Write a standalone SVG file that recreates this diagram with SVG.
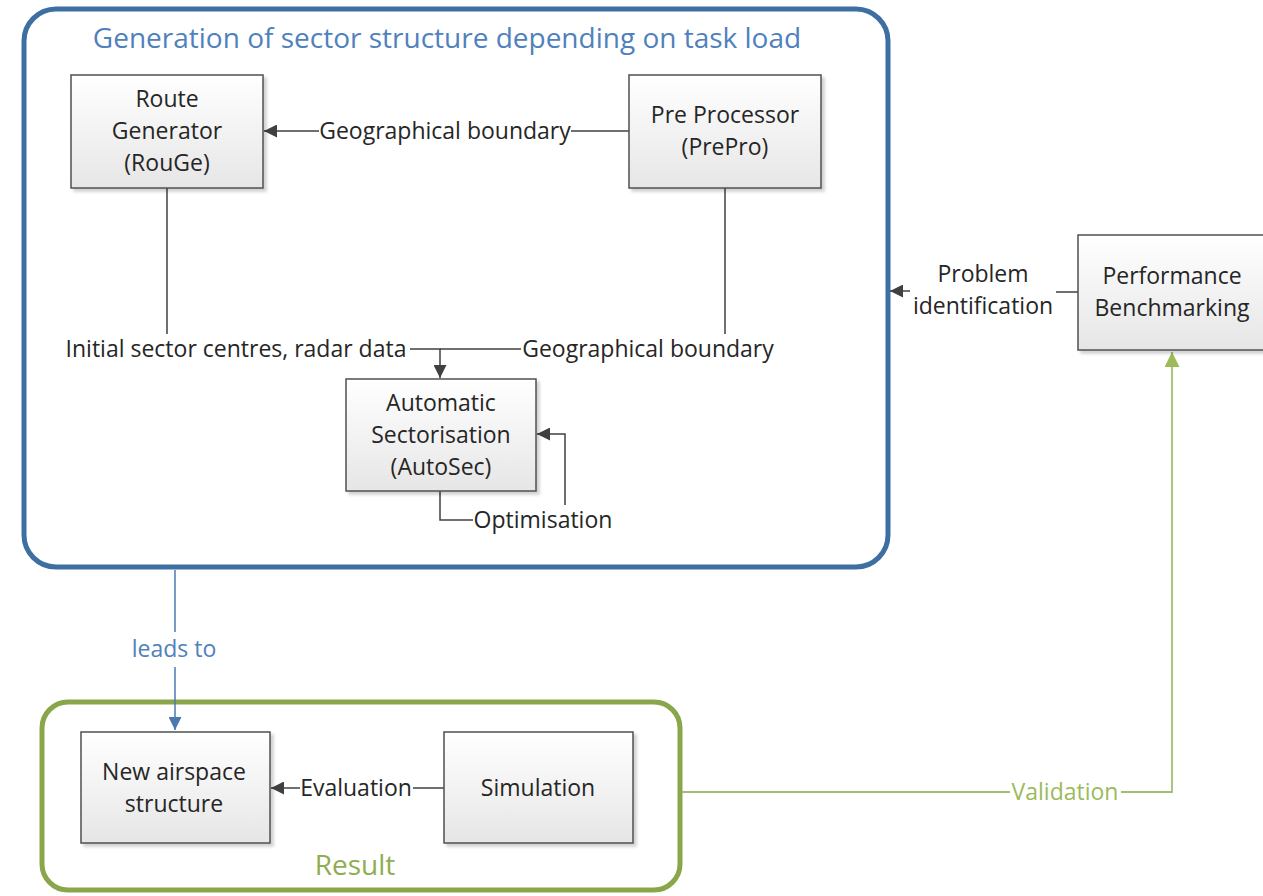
<svg xmlns="http://www.w3.org/2000/svg" width="1263" height="896" viewBox="0 0 1263 896">
<defs>
<linearGradient id="boxfill" x1="0" y1="0" x2="0" y2="1">
<stop offset="0" stop-color="#ffffff"/>
<stop offset="1" stop-color="#e6e6e6"/>
</linearGradient>
<filter id="shadow" x="-10%" y="-10%" width="125%" height="125%">
<feDropShadow dx="3" dy="3" stdDeviation="1.5" flood-color="#000" flood-opacity="0.18"/>
</filter>
<marker id="arrDark" markerWidth="13" markerHeight="13" refX="10" refY="5" orient="auto" markerUnits="userSpaceOnUse" viewBox="0 0 10 10">
<path d="M0,0 L10,5 L0,10 Z" fill="#404040"/>
</marker>
<marker id="arrBlue" markerWidth="13" markerHeight="13" refX="10" refY="5" orient="auto" markerUnits="userSpaceOnUse" viewBox="0 0 10 10">
<path d="M0,0 L10,5 L0,10 Z" fill="#4a7ab0"/>
</marker>
<marker id="arrGreen" markerWidth="15" markerHeight="15" refX="10" refY="5" orient="auto" markerUnits="userSpaceOnUse" viewBox="0 0 10 10">
<path d="M0,0 L10,5 L0,10 Z" fill="#9bbb59"/>
</marker>
</defs>
<style>
text { font-family: "Open Sans", Lato, "Liberation Sans", sans-serif; }
.node rect { fill: url(#boxfill); stroke: #505050; stroke-width: 1.5; }
.lbl { font-size: 23px; fill: #262626; text-anchor: middle; }
.clbl { font-size: 23px; fill: #262626; text-anchor: middle; }
.dark { stroke: #404040; stroke-width: 1.5; fill: none; }
</style>
<rect width="1263" height="896" fill="#ffffff"/>

<g id="container-generation">
<rect x="24" y="9" width="864" height="558" rx="32" ry="32" fill="none" stroke="#3e6fa3" stroke-width="5"/>
<text x="447" y="48" font-size="28" fill="#4f81bd" text-anchor="middle">Generation of sector structure depending on task load</text>
</g>

<g id="container-result">
<rect x="42" y="702" width="638" height="188" rx="26" ry="26" fill="none" stroke="#8aa64a" stroke-width="5"/>
<text x="355" y="875" font-size="28" fill="#8fad52" text-anchor="middle">Result</text>
</g>

<g id="connectors">
<!-- PrePro -> RouGe -->
<line class="dark" x1="629" y1="131" x2="571" y2="131"/>
<line class="dark" x1="319" y1="131" x2="264" y2="131" marker-end="url(#arrDark)"/>
<text class="clbl" x="445" y="139">Geographical boundary</text>
<!-- RouGe -> AutoSec -->
<line class="dark" x1="167" y1="188" x2="167" y2="334"/>
<polyline class="dark" points="410,349 440,349 440,378" marker-end="url(#arrDark)"/>
<text class="clbl" x="236" y="357">Initial sector centres, radar data</text>
<!-- PrePro -> AutoSec -->
<line class="dark" x1="725" y1="188" x2="725" y2="334"/>
<line class="dark" x1="521" y1="349" x2="440" y2="349"/>
<text class="clbl" x="648" y="357">Geographical boundary</text>
<!-- Optimisation loop -->
<polyline class="dark" points="440,491 440,520 473,520"/>
<polyline class="dark" points="565,505 565,434 537,434" marker-end="url(#arrDark)"/>
<text class="clbl" x="543" y="528">Optimisation</text>
<!-- Benchmarking -> generation -->
<line class="dark" x1="1078" y1="292" x2="1056" y2="292"/>
<line class="dark" x1="910" y1="291" x2="890" y2="291" marker-end="url(#arrDark)"/>
<text class="clbl" x="983" y="282">Problem</text>
<text class="clbl" x="983" y="314">identification</text>
<!-- leads to -->
<line x1="175" y1="570" x2="175" y2="632" stroke="#4a7ab0" stroke-width="1.5"/>
<line x1="175" y1="667" x2="175" y2="730" stroke="#4a7ab0" stroke-width="1.5" marker-end="url(#arrBlue)"/>
<text x="174" y="657" font-size="23" fill="#4f81bd" text-anchor="middle">leads to</text>
<!-- Simulation -> New airspace -->
<line class="dark" x1="444" y1="788" x2="413" y2="788"/>
<line class="dark" x1="300" y1="788" x2="271" y2="788" marker-end="url(#arrDark)"/>
<text class="clbl" x="356" y="796">Evaluation</text>
<!-- Validation -->
<line x1="682" y1="792" x2="1010" y2="792" stroke="#a4bd74" stroke-width="1.8"/>
<polyline points="1121,792 1172,792 1172,352" fill="none" stroke="#a4bd74" stroke-width="1.8" marker-end="url(#arrGreen)"/>
<text x="1065" y="800" font-size="23" fill="#9bbb59" text-anchor="middle">Validation</text>
</g>

<g id="node-rouge" class="node">
<rect x="71" y="75" width="192" height="113" filter="url(#shadow)"/>
<text class="lbl" x="167" y="107">Route</text>
<text class="lbl" x="167" y="139">Generator</text>
<text class="lbl" x="167" y="171">(RouGe)</text>
</g>

<g id="node-prepro" class="node">
<rect x="629" y="75" width="192" height="113" filter="url(#shadow)"/>
<text class="lbl" x="725" y="123">Pre Processor</text>
<text class="lbl" x="725" y="155">(PrePro)</text>
</g>

<g id="node-autosec" class="node">
<rect x="346" y="379" width="190" height="112" filter="url(#shadow)"/>
<text class="lbl" x="441" y="411">Automatic</text>
<text class="lbl" x="441" y="443">Sectorisation</text>
<text class="lbl" x="441" y="475">(AutoSec)</text>
</g>

<g id="node-benchmarking" class="node">
<rect x="1078" y="235" width="190" height="115" filter="url(#shadow)"/>
<text class="lbl" x="1172" y="284">Performance</text>
<text class="lbl" x="1172" y="316">Benchmarking</text>
</g>

<g id="node-newairspace" class="node">
<rect x="81" y="732" width="189" height="111" filter="url(#shadow)"/>
<text class="lbl" x="174" y="780">New airspace</text>
<text class="lbl" x="174" y="812">structure</text>
</g>

<g id="node-simulation" class="node">
<rect x="444" y="732" width="189" height="111" filter="url(#shadow)"/>
<text class="lbl" x="538" y="796">Simulation</text>
</g>
</svg>
